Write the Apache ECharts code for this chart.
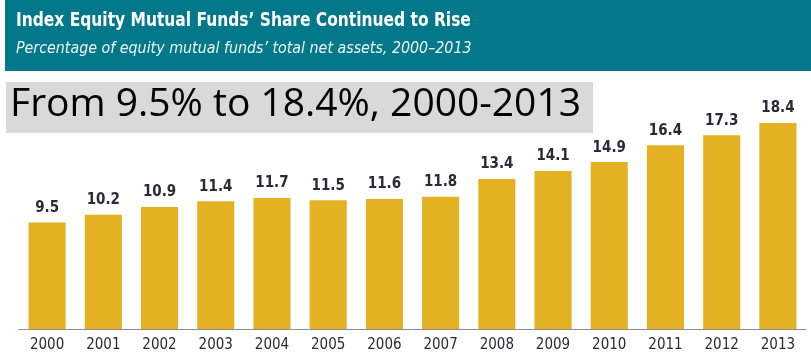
<!DOCTYPE html>
<html><head><meta charset="utf-8">
<script src="https://cdn.jsdelivr.net/npm/echarts@6/dist/echarts.min.js"></script>
<style>html,body{margin:0;padding:0;background:#fff}#c{width:811px;height:354px}</style>
</head><body><div id="c"></div>
<script>
const categories = ['2000','2001','2002','2003','2004','2005','2006','2007','2008','2009','2010','2011','2012','2013'];
const shareValues = [9.5,10.2,10.9,11.4,11.7,11.5,11.6,11.8,13.4,14.1,14.9,16.4,17.3,18.4];
const titleText = 'Index Equity Mutual Funds\u2019 Share Continued to Rise';
const subtitleText = 'Percentage of equity mutual funds\u2019 total net assets, 2000\u20132013';
const calloutText = 'From 9.5% to 18.4%, 2000-2013';

const chart = echarts.init(document.getElementById('c'));
chart.setOption({
  animation: false,
  grid: {left: 19, right: 5, top: 105, bottom: 25, containLabel: false},
  xAxis: {
    type: 'category', data: categories,
    axisLine: {show: true, lineStyle: {color: '#8a8f96', width: 1}},
    axisTick: {show: false},
    axisLabel: {color: '#2a2a35', fontFamily: 'DejaVu Sans Condensed', fontSize: 15, margin: 9}
  },
  yAxis: {type: 'value', min: 0, max: 20, show: false, splitLine: {show: false}},
  series: [{
    type: 'bar', data: shareValues, barWidth: '66%',
    itemStyle: {color: '#E4B122'},
    label: {show: true, position: 'top', distance: 7, color: '#2a2a38',
      fontFamily: 'DejaVu Sans Condensed', fontWeight: 'bold', fontSize: 15}
  }],
  graphic: [
    {type: 'rect', left: 5, top: 0, shape: {width: 806, height: 71}, style: {fill: '#03788A'}},
    {type: 'text', x: 16, y: 21.5, scaleX: 0.905, style: {text: titleText, fill: '#ffffff',
      verticalAlign: 'middle', font: 'bold 19px "DejaVu Sans Condensed"'}},
    {type: 'text', x: 16, y: 49, scaleX: 0.99, style: {text: subtitleText, fill: '#eef5f6',
      verticalAlign: 'middle', font: 'italic 16px "DejaVu Sans Condensed"'}},
    {type: 'rect', left: 6, top: 82, shape: {width: 587, height: 51}, style: {fill: '#D9D9D9'}},
    {type: 'text', x: 10, y: 105, style: {text: calloutText, fill: '#000000',
      verticalAlign: 'middle', font: '39px "Open Sans"'}}
  ]
});
</script></body></html>
